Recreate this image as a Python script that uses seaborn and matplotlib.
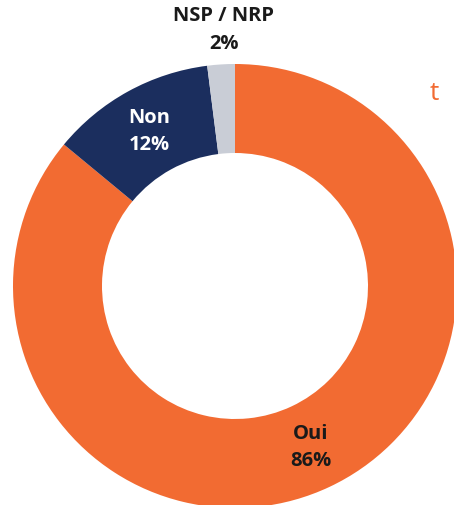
import numpy as np
import matplotlib
matplotlib.use('Agg')
import matplotlib.pyplot as plt
import seaborn as sns

# %% data
categories = ['Oui', 'Non', 'NSP / NRP']
values = [86, 12, 2]
colors = ['#F26B32', '#1B2E5E', '#C9CDD6']
text_colors = ['#1A1A1A', '#FFFFFF', '#1A1A1A']
label_dist = [0.80, 0.80, 1.16]

sns.set_theme(style='white')
plt.rcParams['font.family'] = ['Open Sans', 'DejaVu Sans']

# %% donut
fig = plt.figure(figsize=(4.54, 5.06), dpi=100)
ax = fig.add_axes([0, 0, 1, 1])
R = 222
wedges, _ = ax.pie(values, colors=colors, startangle=90, counterclock=False,
                   radius=1, wedgeprops=dict(width=89 / R, linewidth=0))

for w, cat, v, tc, d in zip(wedges, categories, values, text_colors, label_dist):
    ang = np.deg2rad((w.theta1 + w.theta2) / 2)
    x, y = d * np.cos(ang), d * np.sin(ang)
    if cat.startswith('NSP'):
        x += 5 / R
    ax.text(x, y, f'{cat}\n{v}%', ha='center', va='center',
            fontsize=14.5, fontweight='bold', color=tc, linespacing=1.5)

ax.set_xlim(-235 / R, (454 - 235) / R)
ax.set_ylim(-(506 - 287) / R, 287 / R)
ax.set_aspect('auto')
ax.axis('off')

# cropped title text at the right edge
fig.text(430 / 454, 1 - 93 / 506, 't', color='#F26B32', fontsize=19, ha='left', va='center')

fig.savefig('out.png', dpi=100)
